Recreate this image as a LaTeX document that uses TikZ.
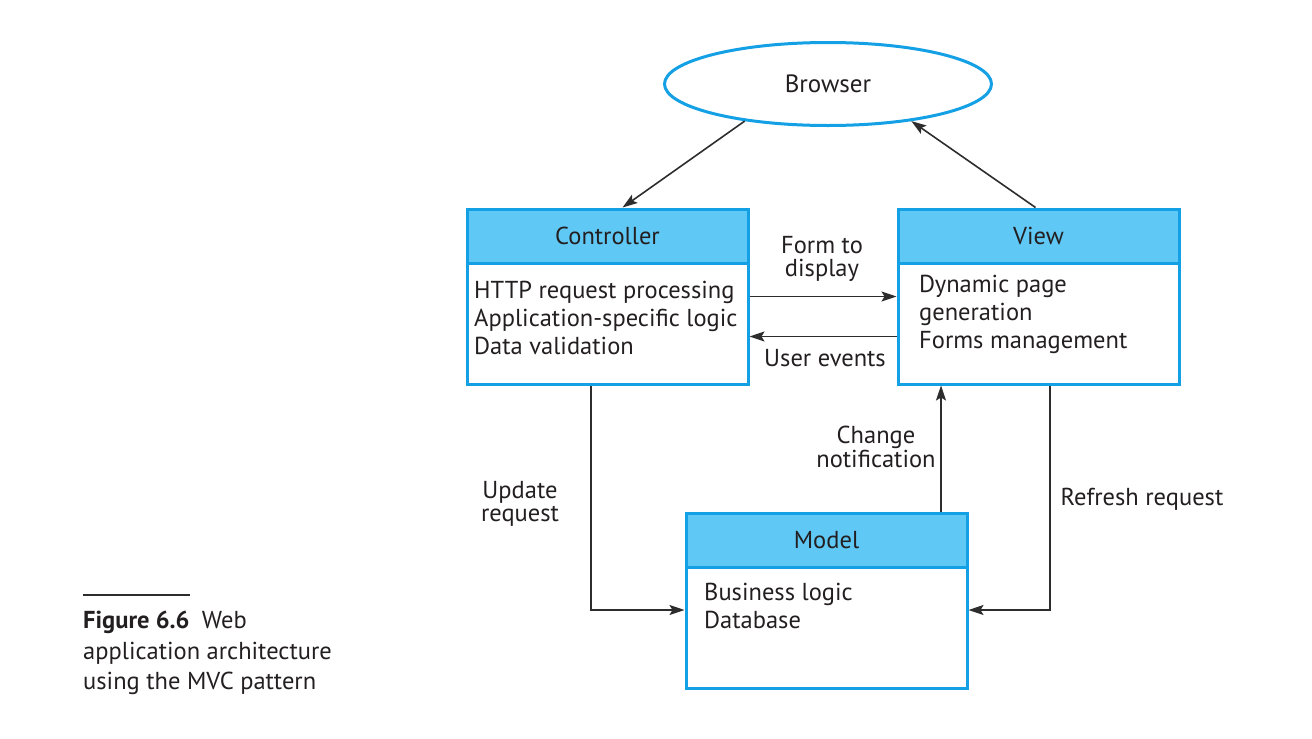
\documentclass[tikz,border=0pt]{standalone}
\usepackage{fontspec}
\setmainfont{PT Sans}
\usetikzlibrary{arrows.meta,shapes.geometric}
\definecolor{boxblue}{RGB}{20,160,228}
\definecolor{headblue}{RGB}{95,200,245}
\definecolor{linegray}{RGB}{45,45,45}
\definecolor{inkblack}{RGB}{35,31,32}

\begin{document}
\begin{tikzpicture}[x=1pt,y=-1pt,text=inkblack,
  box/.style={draw=boxblue,line width=3pt,minimum width=281pt,minimum height=175pt,inner sep=0pt},
  head/.style={draw=boxblue,fill=headblue,line width=3pt,minimum width=281pt,minimum height=54pt,inner sep=0pt,anchor=north,font=\fontsize{24.5}{28}\selectfont},
  arr/.style={draw=linegray,line width=1.6pt,-{Stealth[length=15pt,width=10pt,inset=3pt]}},
  lbl/.style={font=\fontsize{24.5}{23.5}\selectfont,align=center,inner sep=0pt},
  body/.style={font=\fontsize{24.5}{28}\selectfont,align=left,anchor=west,inner sep=0pt}]
  \useasboundingbox (0,0) rectangle (1312,739);

  %Browser
  \node[ellipse,draw=boxblue,line width=3pt,minimum width=327pt,minimum height=83pt,inner sep=0pt,font=\fontsize{25}{28}\selectfont] (browser) at (828,84) {Browser};

  %Caixas
  \node[box] (ctrl) at (607.5,296.5) {};
  \node[head] (ctrlhead) at (ctrl.north) {Controller};
  \node[body] (ctrltxt) at (474,318) {HTTP request processing\\Application-specific logic\\Data validation};

  \node[box] (view) at (1038.5,296.5) {};
  \node[head] (viewhead) at (view.north) {View};
  \node[body] (viewtxt) at (919,314) {Dynamic page\\generation\\Forms management};

  \node[box] (model) at (826.5,601) {};
  \node[head] (modelhead) at (model.north) {Model};
  \node[body] (modeltxt) at (704,605.5) {Business logic\\Database};

  %Setas
  \draw[arr] (browser.204) -- ([xshift=15pt]ctrl.north);
  \draw[arr] ([xshift=-3pt]view.north) -- (browser.336);
  \draw[arr] (ctrl.east) -- (view.west);
  \draw[arr] ([yshift=-40pt]view.west) -- ([yshift=-40pt]ctrl.east);
  \draw[arr] ([xshift=-16.5pt]ctrl.south) |- ([yshift=-9pt]model.west);
  \draw[arr] ([xshift=114.5pt]model.north) -- ([xshift=114.5pt]model.north |- view.south);
  \draw[arr] ([xshift=11.5pt]view.south) |- ([yshift=-9pt]model.east);

  %Labels
  \node[lbl] (formlbl) at (822,259) {Form to\\display};
  \node[lbl] (userlbl) at (825,358) {User events};
  \node[lbl] (changelbl) at (876,447) {Change\\notification};
  \node[lbl] (updatelbl) at (520,504) {Update\\request};
  \node[lbl] (refreshlbl) at (1142,499) {Refresh request};

  %Legenda
  \draw[line width=1.2pt,linegray] (83,595) -- (190,595);
  \node[anchor=west,align=left,inner sep=0pt,font=\fontsize{24.5}{30.5}\selectfont] (caption) at (83,653) {\textbf{Figure 6.6}\enspace Web\\application architecture\\using the MVC pattern};
\end{tikzpicture}
\end{document}
